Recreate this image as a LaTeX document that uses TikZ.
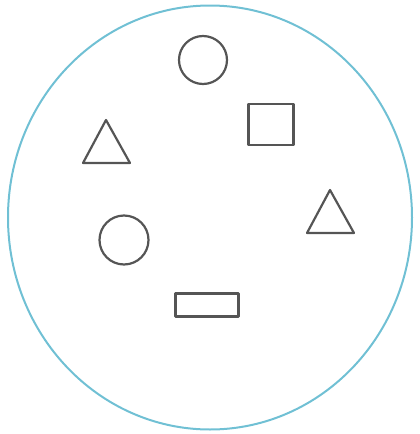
\documentclass[tikz,border=0pt]{standalone}
\definecolor{rimblue}{RGB}{112,192,212}
\definecolor{shapegray}{RGB}{85,85,85}
\begin{document}
\begin{tikzpicture}[x=1pt,y=-1pt,
  outer/.style={draw=rimblue, line width=2pt},
  shp/.style={draw=shapegray, line width=2.2pt, line join=round, inner sep=0pt}]
\useasboundingbox (0,0) rectangle (420,434);
\draw[outer] (210,217.5) ellipse [x radius=202, y radius=212];
\node[shp, circle, minimum size=48pt] (c1) at (203,60) {};
\node[shp, circle, minimum size=49pt] (c2) at (124,240) {};
\node[shp, rectangle, minimum width=45pt, minimum height=41pt] (sq) at (271,124.5) {};
\node[shp, rectangle, minimum width=63pt, minimum height=23pt] (rc) at (207,305) {};
\draw[shp] (83,163) -- (106,120) -- (130,163) -- cycle;
\draw[shp] (307,233) -- (330,190) -- (354,233) -- cycle;
\end{tikzpicture}
\end{document}
